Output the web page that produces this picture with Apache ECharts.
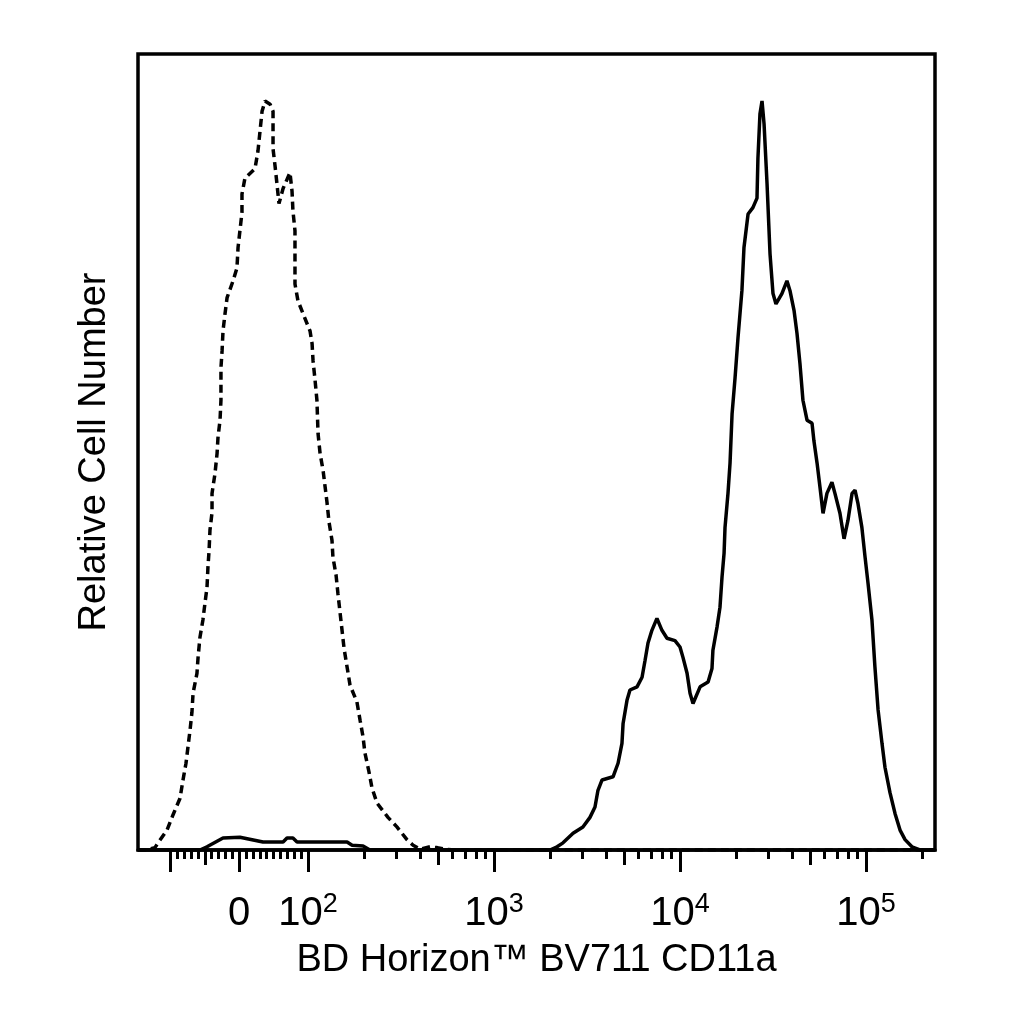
<!doctype html>
<html>

<head>
    <meta charset="utf-8">
    <script src="https://cdn.jsdelivr.net/npm/echarts/dist/echarts.min.js"></script>
    <style>
        html,
        body {
            margin: 0;
            padding: 0;
            background: #fff;
        }

        #histChart {
            width: 1024px;
            height: 1024px;
        }
    </style>
</head>

<body>
    <div id="histChart"></div>
</body>

<script type="text/javascript">
    // x values are positions on the biexponential display scale, in decades (10^2 -> 2)
    // y values are relative cell number, % of the axis height
    var isotypeCurve = [
        [1.086, 0], [1.124, 0], [1.177, 0.3], [1.194, 0.9], [1.242, 2.5], [1.274, 4.4], [1.312, 6.5],
        [1.328, 8.8], [1.344, 10.9], [1.366, 15.1], [1.376, 17.3], [1.382, 19.7], [1.403, 22.2],
        [1.409, 24.2], [1.419, 26.7], [1.435, 28.9], [1.446, 31.0], [1.457, 33.0], [1.462, 35.5],
        [1.468, 37.6], [1.473, 40.2], [1.484, 42.4], [1.484, 44.8], [1.500, 47.3], [1.511, 49.8],
        [1.516, 51.8], [1.527, 54.0], [1.532, 56.5], [1.532, 60.6], [1.538, 62.7], [1.543, 65.2],
        [1.554, 67.4], [1.565, 69.4], [1.597, 71.5], [1.618, 73.1], [1.624, 75.7], [1.634, 77.8],
        [1.645, 80.1], [1.645, 82.4], [1.661, 84.4], [1.715, 85.6], [1.731, 87.8], [1.742, 90.3],
        [1.753, 92.8], [1.769, 94.1], [1.796, 93.7], [1.812, 92.8], [1.812, 90.6], [1.812, 88.1],
        [1.823, 85.9], [1.833, 83.7], [1.844, 81.2], [1.866, 83.1], [1.903, 85.1], [1.914, 82.8],
        [1.919, 80.3], [1.930, 77.8], [1.930, 73.1], [1.930, 71.1], [1.946, 69.0], [1.973, 67.4],
        [2.011, 65.2], [2.022, 63.6], [2.027, 61.5], [2.038, 59.0], [2.048, 56.5], [2.054, 52.3],
        [2.065, 49.8], [2.081, 47.7], [2.091, 45.8], [2.102, 43.7], [2.113, 41.2], [2.129, 38.9],
        [2.134, 36.8], [2.151, 34.5], [2.161, 32.2], [2.172, 29.9], [2.183, 27.6], [2.194, 25.3],
        [2.210, 23.0], [2.226, 20.7], [2.263, 18.6], [2.280, 16.3], [2.296, 14.2], [2.306, 12.2],
        [2.328, 9.8], [2.344, 7.8], [2.371, 5.9], [2.430, 4.1], [2.478, 2.9], [2.532, 1.3],
        [2.565, 0.6], [2.602, 0.1], [2.656, 0.4], [2.694, 0.3], [2.737, 0.1], [2.80, 0], [5.371, 0]
    ];

    var cd11aCurve = [
        [1.086, 0], [1.419, 0], [1.457, 0.4], [1.543, 1.5], [1.634, 1.6], [1.758, 1.0], [1.866, 1.0],
        [1.887, 1.5], [1.919, 1.5], [1.941, 1.0], [2.210, 1.0], [2.237, 0.6], [2.296, 0.5], [2.333, 0],
        [3.301, 0], [3.339, 0.4], [3.371, 0.9], [3.425, 2.1], [3.478, 2.9], [3.516, 4.1], [3.543, 5.4],
        [3.559, 7.5], [3.581, 8.8], [3.640, 9.2], [3.667, 10.9], [3.688, 13.4], [3.694, 15.9],
        [3.715, 18.8], [3.731, 20.1], [3.769, 20.5], [3.796, 21.7], [3.812, 23.8], [3.828, 26.0],
        [3.849, 27.6], [3.876, 29.1], [3.903, 27.6], [3.930, 26.6], [3.973, 26.3], [4.000, 25.5],
        [4.016, 24.2], [4.038, 22.2], [4.054, 19.7], [4.070, 18.4], [4.108, 20.5], [4.151, 21.1],
        [4.172, 22.8], [4.177, 25.1], [4.199, 28.0], [4.215, 30.5], [4.226, 34.3], [4.237, 37.3],
        [4.242, 40.5], [4.258, 44.8], [4.269, 48.6], [4.280, 54.8], [4.296, 59.3], [4.312, 64.4],
        [4.333, 70.3], [4.344, 75.7], [4.366, 79.9], [4.392, 80.7], [4.414, 81.9], [4.419, 86.9],
        [4.430, 92.5], [4.441, 94.1], [4.452, 91.2], [4.468, 83.7], [4.484, 74.9], [4.500, 69.9],
        [4.516, 68.6], [4.548, 69.9], [4.575, 71.5], [4.591, 70.3], [4.613, 67.8], [4.629, 64.9],
        [4.645, 61.1], [4.661, 56.5], [4.683, 54.0], [4.710, 53.6], [4.720, 51.4], [4.737, 48.6],
        [4.753, 45.5], [4.769, 42.3], [4.790, 44.8], [4.817, 46.2], [4.833, 44.8], [4.860, 42.3],
        [4.882, 39.1], [4.903, 41.4], [4.925, 44.8], [4.941, 45.2], [4.957, 43.5], [4.978, 40.5],
        [4.995, 36.8], [5.011, 33.5], [5.032, 28.9], [5.048, 23.0], [5.065, 17.6], [5.086, 13.4],
        [5.102, 10.4], [5.129, 7.2], [5.156, 4.6], [5.183, 2.5], [5.210, 1.3], [5.247, 0.4],
        [5.290, 0], [5.371, 0]
    ];

    // tick marks, in fluorescence units
    var majorTicks = [-100, 0, 100, 1000, 10000, 100000];
    var mediumTicks = [-50, 500, 5000, 50000];
    var minorTicks = [-90, -80, -70, -60, -40, -30, -20, -10, 10, 20, 30, 40, 50, 60, 70, 80, 90,
        200, 300, 400, 600, 700, 800, 900, 2000, 3000, 4000, 6000, 7000, 8000, 9000,
        20000, 30000, 40000, 60000, 70000, 80000, 90000, 200000];
    var labelValues = [0, 100, 1000, 10000, 100000];
    var labelTexts = ['{b|0}', '{b|10}{s|2}', '{b|10}{s|3}', '{b|10}{s|4}', '{b|10}{s|5}'];

    var axisMin = 1.086;
    var axisMax = 5.371;
    var zeroGap = 0.37; // decades between 0 and 10^2 on the display

    // biexponential-like display transform: log above 100, linear around zero
    function toDisplay(v) {
        if (v >= 100) return Math.log10(v);
        if (v > -100) return 2 - zeroGap * (1 - v / 100);
        return 2 - 2 * zeroGap - Math.log10(-v / 100);
    }

    var FONT = 'Liberation Sans, Arial, sans-serif';

    function tickAxis(values, len, withLabels) {
        var ax = {
            type: 'value',
            gridIndex: 0,
            position: 'bottom',
            min: axisMin,
            max: axisMax,
            axisLine: { show: false },
            splitLine: { show: false },
            axisTick: {
                show: true,
                inside: false,
                length: len,
                customValues: values.map(toDisplay),
                lineStyle: { color: '#000', width: 3 }
            },
            axisLabel: { show: false }
        };
        if (withLabels) {
            var pos = labelValues.map(toDisplay);
            ax.axisLine = { show: true, onZero: false, lineStyle: { color: '#000', width: 3.5 } };
            ax.axisLabel = {
                show: true,
                customValues: pos,
                margin: 42,
                color: '#000',
                fontFamily: FONT,
                formatter: function (value) {
                    for (var i = 0; i < pos.length; i++) {
                        if (Math.abs(pos[i] - value) < 1e-6) return labelTexts[i];
                    }
                    return '';
                },
                rich: {
                    b: { fontSize: 40, lineHeight: 42, fontFamily: FONT, color: '#000', verticalAlign: 'bottom' },
                    s: { fontSize: 27, lineHeight: 27, fontFamily: FONT, color: '#000', verticalAlign: 'bottom', padding: [0, 0, 16, 0] }
                }
            };
            ax.name = 'BD Horizon\u2122 BV711 CD11a';
            ax.nameLocation = 'middle';
            ax.nameGap = 92;
            ax.nameTextStyle = { fontSize: 38, fontFamily: FONT, color: '#000' };
        }
        return ax;
    }

    var histChart = echarts.init(document.getElementById('histChart'));

    var option = {
        animation: false,
        backgroundColor: '#fff',
        grid: {
            left: 138,
            right: 89,
            top: 54,
            bottom: 174,
            show: true,
            borderColor: '#000',
            borderWidth: 3.5,
            backgroundColor: 'transparent'
        },
        xAxis: [
            tickAxis(majorTicks, 22, true),
            tickAxis(mediumTicks, 15, false),
            tickAxis(minorTicks, 9, false)
        ],
        yAxis: {
            type: 'value',
            min: 0,
            max: 100,
            axisLine: { show: false },
            axisTick: { show: false },
            axisLabel: { show: false },
            splitLine: { show: false },
            name: 'Relative Cell Number',
            nameLocation: 'middle',
            nameGap: 24,
            nameTextStyle: { fontSize: 38, fontFamily: FONT, color: '#000' }
        },
        series: [
            {
                name: 'Isotype control',
                type: 'line',
                xAxisIndex: 0,
                data: isotypeCurve,
                showSymbol: false,
                silent: true,
                lineStyle: { color: '#000', width: 3.5, type: [8, 5] }
            },
            {
                name: 'CD11a',
                type: 'line',
                xAxisIndex: 0,
                data: cd11aCurve,
                showSymbol: false,
                silent: true,
                lineStyle: { color: '#000', width: 3.5 }
            }
        ]
    };

    histChart.setOption(option);
</script>

</html>
